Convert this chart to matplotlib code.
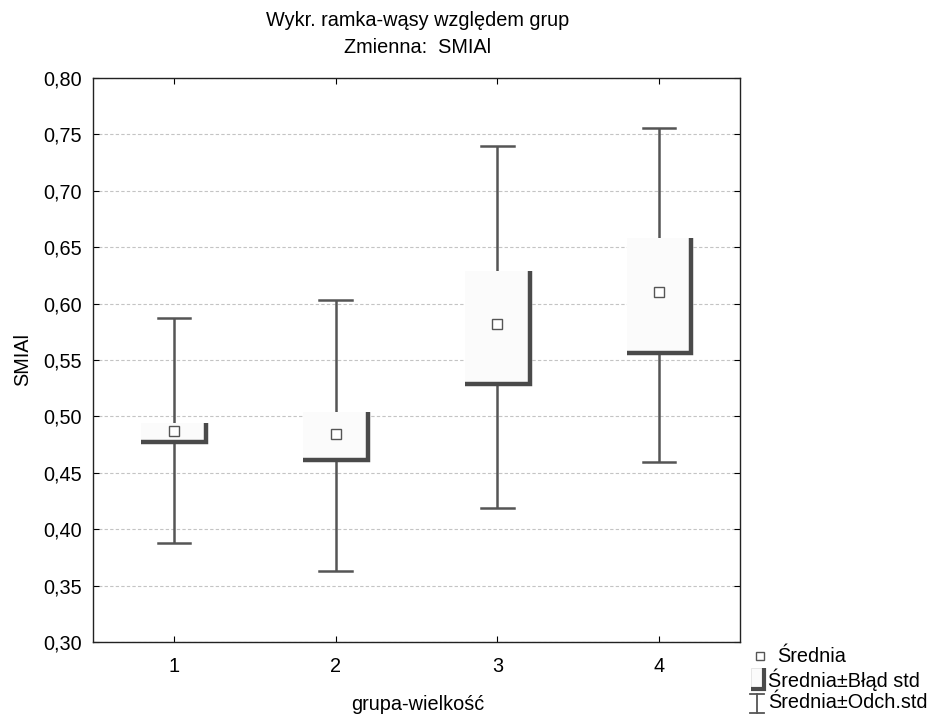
import numpy as np
import matplotlib
matplotlib.use("Agg")
import matplotlib.pyplot as plt
from matplotlib.patches import Rectangle
from matplotlib.lines import Line2D

plt.rcParams["font.family"] = ["Liberation Sans", "DejaVu Sans"]

# ── Dane ────────────────────────────────────────────────────────────────────
grupy     = [1, 2, 3, 4]
srednia   = [0.487, 0.484, 0.582, 0.610]
se_dol    = [0.477, 0.461, 0.529, 0.556]
se_gora   = [0.494, 0.504, 0.629, 0.658]
sd_dol    = [0.388, 0.363, 0.419, 0.460]
sd_gora   = [0.587, 0.603, 0.740, 0.756]

BOX_W  = 0.40
CAP_W  = 0.20
DARK   = "#4a4a4a"
WHISK  = "#555555"
FILL   = "#fbfbfb"
FS     = 14.3

fig = plt.figure(figsize=(9.41, 7.14), dpi=100, facecolor="white")
ax = fig.add_axes([0.0988, 0.1008, 0.6876, 0.79])

# wąsy (średnia ± odch. std)
for x, lo, hi in zip(grupy, sd_dol, sd_gora):
    ax.plot([x, x], [lo, hi], color=WHISK, lw=1.8, zorder=2, solid_capstyle="butt")
    ax.plot([x - CAP_W / 2, x + CAP_W / 2], [lo, lo], color=WHISK, lw=1.8, zorder=2)
    ax.plot([x - CAP_W / 2, x + CAP_W / 2], [hi, hi], color=WHISK, lw=1.8, zorder=2)

# ramki (średnia ± błąd std) z cieniem po prawej i na dole
for x, lo, hi in zip(grupy, se_dol, se_gora):
    ax.add_patch(Rectangle((x - BOX_W / 2, lo), BOX_W, hi - lo,
                           facecolor=FILL, edgecolor="none", zorder=3))
    ax.plot([x + BOX_W / 2, x + BOX_W / 2, x - BOX_W / 2], [hi, lo, lo],
            color=DARK, lw=3.2, zorder=4, solid_joinstyle="miter",
            solid_capstyle="butt")

# średnie
ax.plot(grupy, srednia, ls="none", marker="s", ms=7, mfc="white",
        mec="#555555", mew=1.0, zorder=5)

ax.set_xlim(0.5, 4.5)
ax.set_ylim(0.30, 0.80)
ax.set_xticks(grupy)
yt = np.arange(0.30, 0.801, 0.05)
ax.set_yticks(yt)
ax.set_yticklabels([f"{v:.2f}".replace(".", ",") for v in yt])
ax.tick_params(direction="in", length=4, width=0.8, top=True, right=True,
               labelsize=FS, colors="black")
ax.tick_params(axis="x", pad=11)
ax.tick_params(axis="y", pad=8)
ax.yaxis.grid(True, color="#c4c4c4", ls=(0, (3, 2)), lw=0.8)
ax.set_axisbelow(True)
for s in ax.spines.values():
    s.set_linewidth(1.0)
    s.set_color("#222222")

ax.set_ylabel("SMIAl", fontsize=FS, labelpad=8)
fig.text(0.4436, 1 - 705 / 714, "grupa-wielkość", ha="center", va="center", fontsize=FS)

fig.text(0.4436, 0.971, "Wykr. ramka-wąsy względem grup", ha="center", va="center", fontsize=FS)
fig.text(0.4436, 0.933, "Zmienna:  SMIAl", ha="center", va="center", fontsize=FS)

# legenda rysowana ręcznie
def fx(px):
    return px / 941

def fy(py):
    return 1 - py / 714

fig.add_artist(Line2D([fx(760)], [fy(656)], marker="s", ms=6, mfc="white",
                      mec="#555555", mew=1.0, ls="none"))
fig.text(fx(777), fy(657), "Średnia", va="center", fontsize=FS)

fig.add_artist(Rectangle((fx(751), fy(689)), 13 / 941, 21 / 714,
                         facecolor=FILL, edgecolor="#dddddd", lw=0.5,
                         transform=fig.transFigure))
fig.add_artist(Line2D([fx(764), fx(764), fx(751)], [fy(668), fy(689), fy(689)],
                      color=DARK, lw=3.0, solid_joinstyle="miter",
                      solid_capstyle="butt"))
fig.text(fx(768), fy(680), "Średnia±Błąd std", va="center", fontsize=FS)

fig.add_artist(Line2D([fx(757), fx(757)], [fy(694), fy(713)], color=WHISK, lw=1.3))
fig.add_artist(Line2D([fx(750), fx(764)], [fy(694), fy(694)], color=WHISK, lw=1.3))
fig.add_artist(Line2D([fx(750), fx(764)], [fy(713), fy(713)], color=WHISK, lw=1.3))
fig.text(fx(768), fy(703), "Średnia±Odch.std", va="center", fontsize=FS)

fig.savefig("out.png", dpi=100, facecolor="white")
